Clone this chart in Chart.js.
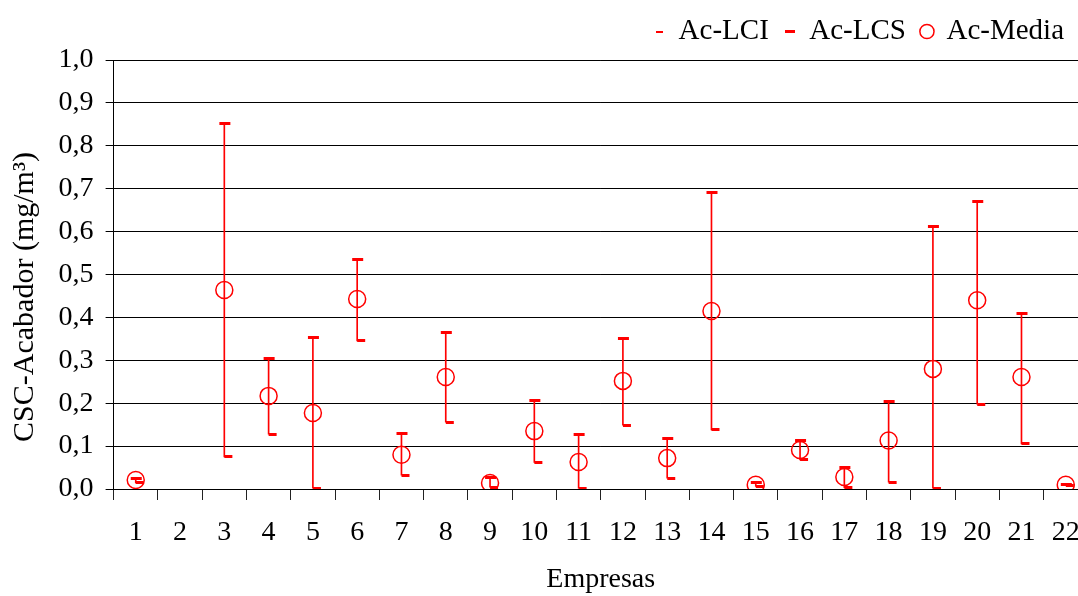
<!DOCTYPE html>
<html>
<head>
<meta charset="utf-8">
<script src="https://cdn.jsdelivr.net/npm/chart.js@4"></script>
<style>
    html, body { margin: 0; padding: 0; overflow: hidden; background: #fff; }
    #chartArea { width: 1099px; height: 596px; }
</style>
</head>
<body>
<div id="chartArea"><canvas id="myChart" width="1099" height="596"></canvas></div>
<script>
var myChart;

// data
var empresas = ['1', '2', '3', '4', '5', '6', '7', '8', '9', '10', '11',
    '12', '13', '14', '15', '16', '17', '18', '19', '20', '21', '22'];
var acLci = [0.014, null, 0.075, 0.128, 0.002, 0.345, 0.032, 0.156, 0.004, 0.062, 0.002,
    0.149, 0.025, 0.138, 0.006, 0.068, 0.003, 0.016, 0.002, 0.198, 0.105, 0.009];
var acLcs = [0.024, null, 0.851, 0.305, 0.352, 0.534, 0.130, 0.364, 0.026, 0.207, 0.128,
    0.350, 0.117, 0.690, 0.015, 0.112, 0.050, 0.203, 0.613, 0.671, 0.410, 0.011];
var acMedia = [0.021, null, 0.464, 0.217, 0.177, 0.443, 0.080, 0.261, 0.014, 0.135, 0.063,
    0.252, 0.072, 0.415, 0.010, 0.091, 0.028, 0.113, 0.280, 0.440, 0.261, 0.010];
var yTickLabels = ['0,0', '0,1', '0,2', '0,3', '0,4', '0,5', '0,6', '0,7', '0,8', '0,9', '1,0'];

var RED = '#ff0000';

// small red dash used as a point marker; x0 is where the dash starts inside the canvas
function dashImage(canvasW, x0, len, h) {
    var c = document.createElement('canvas');
    c.width = canvasW;
    c.height = h;
    var ctx = c.getContext('2d');
    ctx.fillStyle = RED;
    ctx.fillRect(x0, 0, len, h);
    return c;
}

var lciMark = dashImage(18, 9, 8, 3);
var lcsMark = dashImage(14, 2, 11, 3);
var lciLegend = dashImage(7, 0, 7, 2);
var lcsLegend = dashImage(10, 0, 10, 3);

var whisker = acLci.map(function (v, i) {
    if (v == null || acLcs[i] == null) return null;
    return [v, acLcs[i]];
});

// the canvas is a bit wider than the window, pull the legend back in
var legendShift = {
    id: 'legendShift',
    afterLayout: function (chart) {
        var lg = chart.legend;
        lg.left -= 19;
        lg.right -= 19;
        lg.top -= 4;
        lg.bottom -= 4;
    }
};

Chart.defaults.font.family = '"Liberation Serif", "Times New Roman", serif';
Chart.defaults.font.size = 28;
Chart.defaults.color = '#000';

function drawChart() {
    const data = {
        labels: empresas,
        datasets: [{
            type: 'line',
            label: 'Ac-LCI',
            data: acLci,
            showLine: false,
            pointStyle: lciMark,
            pointRadius: 5,
            borderColor: RED,
            backgroundColor: RED
        }, {
            type: 'line',
            label: 'Ac-LCS',
            data: acLcs,
            showLine: false,
            pointStyle: lcsMark,
            pointRadius: 5,
            borderColor: RED,
            backgroundColor: RED
        }, {
            type: 'line',
            label: 'Ac-Media',
            data: acMedia,
            showLine: false,
            pointStyle: 'circle',
            pointRadius: 8.5,
            pointBorderWidth: 1.5,
            borderWidth: 1.5,
            borderColor: RED,
            backgroundColor: 'rgba(0,0,0,0)'
        }, {
            type: 'bar',
            label: 'range',
            data: whisker,
            barThickness: 1,
            backgroundColor: RED,
            borderWidth: 0
        }]
    };

    const config = {
        type: 'bar',
        data: data,
        plugins: [legendShift],
        options: {
            responsive: false,
            animation: false,
            devicePixelRatio: 1,
            layout: { padding: { top: 5, right: 0, left: 0, bottom: 0 } },
            plugins: {
                tooltip: { enabled: false },
                legend: {
                    position: 'top',
                    align: 'end',
                    labels: {
                        usePointStyle: true,
                        boxWidth: 10,
                        boxHeight: 10,
                        padding: 16,
                        font: { size: 29 },
                        filter: function (item) { return item.datasetIndex !== 3; },
                        generateLabels: function (chart) {
                            var items = Chart.defaults.plugins.legend.labels.generateLabels(chart);
                            items.forEach(function (it) {
                                if (it.datasetIndex === 0) it.pointStyle = lciLegend;
                                if (it.datasetIndex === 1) it.pointStyle = lcsLegend;
                            });
                            return items;
                        }
                    }
                }
            },
            scales: {
                x: {
                    offset: true,
                    grid: {
                        offset: true,
                        drawOnChartArea: false,
                        tickLength: 11,
                        color: '#222'
                    },
                    border: { color: '#000', width: 1 },
                    ticks: { padding: 19, font: { size: 28, lineHeight: 1 }, maxRotation: 0, autoSkip: false },
                    title: {
                        display: true,
                        text: 'Empresas',
                        font: { size: 28, lineHeight: 1 },
                        padding: { top: 0, bottom: 2 }
                    }
                },
                y: {
                    min: 0,
                    max: 1,
                    grid: { color: '#000', tickLength: 8, lineWidth: 1 },
                    border: { color: '#000', width: 1 },
                    ticks: {
                        stepSize: 0.1,
                        padding: 12,
                        font: { size: 28 },
                        callback: function (value, index) { return yTickLabels[index]; }
                    },
                    title: {
                        display: true,
                        // trailing blanks push the rotated title down to where the original sits
                        text: 'CSC-Acabador (mg/m³)\u00a0\u00a0\u00a0\u00a0\u00a0\u00a0',
                        font: { size: 30 },
                        padding: { top: 7, bottom: 3.6 }
                    }
                }
            }
        }
    };

    myChart = new Chart(document.getElementById('myChart'), config);
}

drawChart();
</script>
</body>
</html>
